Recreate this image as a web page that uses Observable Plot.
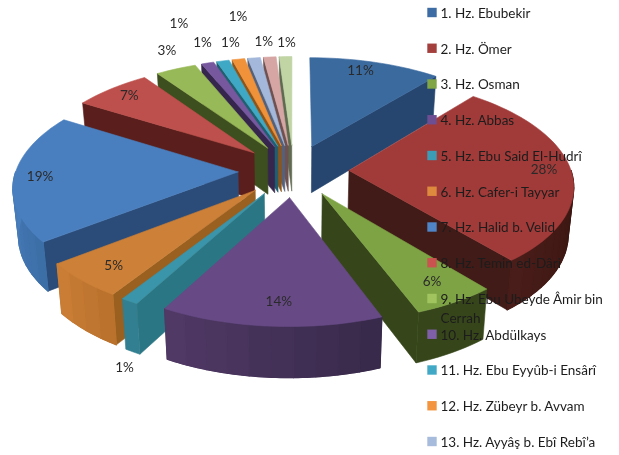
<!DOCTYPE html>
<html><head><meta charset="utf-8">
<script src="https://cdn.jsdelivr.net/npm/d3@7"></script>
<script src="https://cdn.jsdelivr.net/npm/@observablehq/plot@0.6"></script>
<style>html,body{margin:0;padding:0;background:#fff}svg{display:block;filter:blur(0.45px)}</style>
</head><body><div id="chart"></div>
<script>
// Data
const names = ["1. Hz. Ebubekir","2. Hz. Ömer","3. Hz. Osman","4. Hz. Abbas","5. Hz. Ebu Said El-Hudrî","6. Hz. Cafer-i Tayyar","7. Hz. Halid b. Velid","8. Hz. Temin ed-Dâri","9. Hz. Ebu Ubeyde Âmir bin\nCerrah","10. Hz. Abdülkays","11. Hz. Ebu Eyyûb-i Ensârî","12. Hz. Zübeyr b. Avvam","13. Hz. Ayyâş b. Ebî Rebî’a"];
const shares = [11,28,5.2,13.8,1.1,5.4,19.3,6.5,3.4,1.05,1.05,1.05,1.05,1.05,1.05];
const percentLabels = ["11%","28%","6%","14%","1%","5%","19%","7%","3%","1%","1%","1%","1%","1%","1%"];
// Styles
const topColors = ["#3b6a9f","#a13b39","#7ea344","#674a85","#3a94aa","#cc8038","#4a7fbf","#bd4f4c","#98b957","#77589f","#3fa8c4","#f0923a","#a3b8da","#d6a6a5","#c0d4a4"];
const edgeColors = ["#26466f","#401b17","#36461a","#3e2c52","#2b7684","#99601f","#2b4c78","#5a1f1c","#3d4e1f","#36264e","#1f5f70","#8f5418","#55617a","#6e5150","#5f6b50"];
const rimColors = [["#26466f","#26466f"],["#4a1d19","#36140f"],["#36461a","#36461a"],["#513a66","#37294a"],["#317f90","#317f90"],["#cb7f36","#b8702c"],["#4a7fbd","#3c6ea6"],["#5a1f1c","#5a1f1c"],["#3d4e1f","#3d4e1f"],["#36264e","#36264e"],["#1f5f70","#1f5f70"],["#8f5418","#8f5418"],["#55617a","#55617a"],["#6e5150","#6e5150"],["#5f6b50","#5f6b50"]];
const legendColors = ["#3c6ca3","#a33f3c","#80a646","#6d4e92","#3c9cb6","#de8a3e","#4f85c6","#c9544f","#a2c45e","#7f5fa8","#41a9c6","#f3953f","#a7bcdc"];
const labelNudge = [[-15,8],[-27,-1],[-23,-20],[8,-25],[-5,66],[32,-15],[26,-1],[18,7],[-9,-18],[-5,-20],[-44,-37],[-8,-17],[-16,-41],[-6,-15],[1,-14]];

// Perspective pie geometry
const A = 222, B = 105.4, K = 0.125, EXPLODE = 0.25;
const rad = d => d * Math.PI / 180;
const ground = (t, r, m) => [r*Math.sin(rad(t)) + EXPLODE*Math.sin(rad(m)), -r*Math.cos(rad(t)) - EXPLODE*Math.cos(rad(m))];
const top_ = ([X, Y]) => { const w = 1 - K*Y; return {x: A*X/w, y: B*Y/w}; };
const bot_ = ([X, Y]) => { const p = top_([X, Y]); return {x: p.x*0.98, y: p.y + 47 + 3.3*Y}; };
const total = d3.sum(shares);
let acc = 0;
const slices = shares.map((v, i) => { const s = acc/total*360; acc += v; const e = acc/total*360; return {i, s, e, m: (s+e)/2}; });
const steps = (a, b, d) => { const n = Math.max(1, Math.ceil(Math.abs(b-a)/d)); return d3.range(n+1).map(k => a + (b-a)*k/n); };

const poly = (pts, fill, sw = 0.6) => Plot.line([...pts, pts[0]], {x:"x", y:"y", fill, stroke:fill, strokeWidth:sw, curve:"linear"});
const marks = [];
for (const sl of [...slices].sort((a,b) => Math.abs(b.m-180) - Math.abs(a.m-180))) {
  const {i, s, e, m} = sl;
  const apex = ground(0, 0, m);
  // inner cut faces
  if (Math.sin(rad(e)) > 0) { const g = ground(e,1,m); marks.push(poly([top_(apex), top_(g), bot_(g), bot_(apex)], edgeColors[i])); }
  if (Math.sin(rad(s)) < 0) { const g = ground(s,1,m); marks.push(poly([top_(apex), top_(g), bot_(g), bot_(apex)], edgeColors[i])); }
  // outer rim, visible on the front half only
  const a = Math.max(s, 90), b = Math.min(e, 270);
  if (b > a) {
    const col = d3.interpolateRgb(rimColors[i][0], rimColors[i][1]);
    const fine = steps(a, b, 2);
    marks.push(poly([...fine.map(t => top_(ground(t,1,m))), ...fine.slice().reverse().map(t => bot_(ground(t,1,m)))], col(0.5)));
    if (rimColors[i][0] !== rimColors[i][1]) {
      const ts = steps(a, b, 5);
      ts.slice(1).forEach((t, k) => {
        const sub = steps(ts[k], t, 1);
        marks.push(poly([...sub.map(u => top_(ground(u,1,m))), ...sub.slice().reverse().map(u => bot_(ground(u,1,m)))], col(1 - (k + 0.5)/(ts.length - 1)), 1.2));
      });
    }
  }
  // top
  marks.push(poly([top_(apex), ...steps(s, e, 2).map(t => top_(ground(t,1,m)))], topColors[i]));
}

const labels = slices.map(sl => {
  const p = top_(ground(sl.m, 1, sl.m));
  return {x: p.x + labelNudge[sl.i][0], y: p.y + labelNudge[sl.i][1], text: percentLabels[sl.i]};
});
const CX = 293, CY = 170;
const font = {fontFamily:"Lato, 'Open Sans', sans-serif", fontSize:13.5};
const legend = names.map((n, i) => ({n, c: legendColors[i], y: 12 + i*35.75 - CY}));

marks.push(Plot.text(labels, {x:"x", y:"y", text:"text", fill:"#2a2a2a", ...font}));
marks.push(Plot.dot(legend, {x:() => 431.5-CX, y:"y", symbol:"square", r:5.3, fill:"c", stroke:null}));
marks.push(Plot.text(legend, {x:() => 440-CX, y:"y", text:"n", fill:"#1c1c1c", textAnchor:"start", lineAnchor:"top", dy:-8, lineHeight:1.4, ...font}));

document.getElementById("chart").append(Plot.plot({
  width:619, height:455, margin:0, axis:null,
  x:{domain:[-CX, 619-CX], range:[0,619]},
  y:{domain:[-CY, 455-CY], range:[0,455]},
  color:{type:"identity"},
  marks
}));
</script></body></html>
